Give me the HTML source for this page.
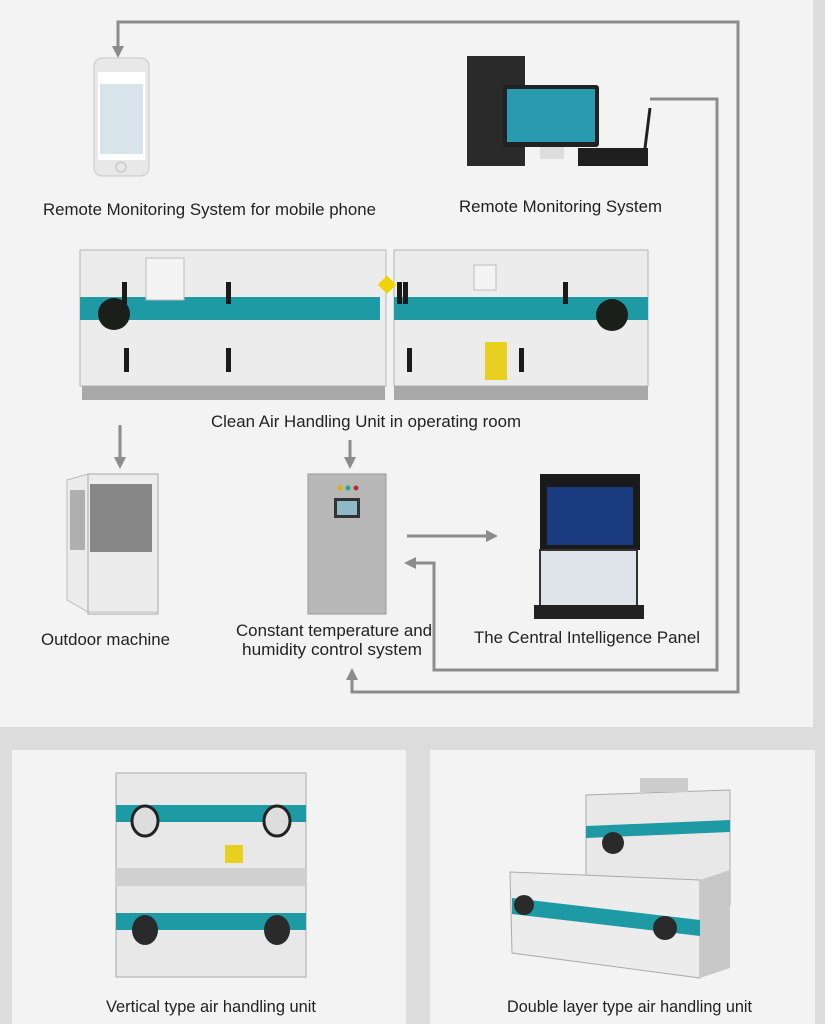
<!DOCTYPE html>
<html><head><meta charset="utf-8"><style>
html,body{margin:0;padding:0;width:825px;height:1024px;overflow:hidden;background:#f3f3f3}
svg{display:block}
text{font-family:"Liberation Sans",sans-serif;font-size:16.5px;fill:#222}
</style></head><body>
<svg width="825" height="1024" viewBox="0 0 825 1024" xmlns="http://www.w3.org/2000/svg">
<defs>
<marker id="ah" markerWidth="4" markerHeight="4" refX="2" refY="2" orient="auto" markerUnits="strokeWidth"><path d="M0,0 L4,2 L0,4 z" fill="#8c8c8c"/></marker>
</defs>
<rect width="825" height="1024" fill="#f3f3f3"/>
<rect x="813" y="0" width="12" height="727" fill="#dcdcdc"/>
<rect x="0" y="727" width="825" height="297" fill="#dcdcdc"/>
<rect x="12" y="750" width="394" height="274" fill="#f3f3f3"/>
<rect x="430" y="750" width="385" height="274" fill="#f3f3f3"/>

<g fill="none" stroke="#8c8c8c" stroke-width="3">
<path d="M118,48 V22 H738 V692 H352 V674" marker-end="url(#ah)"/>
<path d="M118,40 V52" marker-end="url(#ah)"/>
<path d="M650,99 H717 V670 H434 V563 H410" marker-end="url(#ah)"/>
<path d="M407,536 H492" marker-end="url(#ah)"/>
<path d="M120,425 V463" marker-end="url(#ah)"/>
<path d="M350,440 V463" marker-end="url(#ah)"/>
</g>

<rect x="94" y="58" width="55" height="118" rx="8" fill="#e8e8e8" stroke="#c8c8c8"/>
<rect x="98" y="72" width="47" height="88" fill="#fff"/>
<rect x="100" y="84" width="43" height="70" fill="#d8e4ec"/>
<circle cx="121" cy="167" r="5" fill="none" stroke="#bbb"/>

<rect x="467" y="56" width="58" height="110" fill="#2a2a2a"/>
<rect x="503" y="85" width="96" height="62" rx="3" fill="#222"/>
<rect x="507" y="89" width="88" height="53" fill="#2a9ab0"/>
<rect x="540" y="147" width="24" height="12" fill="#ddd"/>
<rect x="578" y="148" width="70" height="18" fill="#1f1f1f"/>
<line x1="645" y1="148" x2="650" y2="108" stroke="#222" stroke-width="3"/>

<text x="43" y="215" textLength="333" lengthAdjust="spacingAndGlyphs">Remote Monitoring System for mobile phone</text>
<text x="459" y="212" textLength="203" lengthAdjust="spacingAndGlyphs">Remote Monitoring System</text>

<rect x="80" y="250" width="306" height="136" fill="#ececec" stroke="#b5b5b5"/>
<rect x="394" y="250" width="254" height="136" fill="#ececec" stroke="#b5b5b5"/>
<rect x="80" y="297" width="300" height="23" fill="#1e9aa5"/>
<rect x="394" y="297" width="254" height="23" fill="#1e9aa5"/>
<rect x="82" y="386" width="303" height="14" fill="#a8a8a8"/>
<rect x="394" y="386" width="254" height="14" fill="#a8a8a8"/>
<circle cx="114" cy="314" r="16" fill="#1a1f1c"/>
<circle cx="612" cy="315" r="16" fill="#1a1f1c"/>
<rect x="146" y="258" width="38" height="42" fill="#f4f4f4" stroke="#bbb"/>
<rect x="474" y="265" width="22" height="25" fill="#f4f4f4" stroke="#bbb"/>
<rect x="485" y="342" width="22" height="38" fill="#e8d020"/>
<rect x="381" y="278" width="13" height="13" fill="#f0d400" transform="rotate(45 387 284)"/>
<g fill="#1a1a1a">
<rect x="122" y="282" width="5" height="22"/><rect x="226" y="282" width="5" height="22"/><rect x="397" y="282" width="5" height="22"/><rect x="403" y="282" width="5" height="22"/><rect x="563" y="282" width="5" height="22"/>
<rect x="124" y="348" width="5" height="24"/><rect x="226" y="348" width="5" height="24"/><rect x="407" y="348" width="5" height="24"/><rect x="519" y="348" width="5" height="24"/>
</g>
<text x="211" y="427" textLength="310" lengthAdjust="spacingAndGlyphs">Clean Air Handling Unit in operating room</text>

<polygon points="67,480 88,474 158,474 158,612 88,612 67,600" fill="#ececec" stroke="#bbb"/>
<rect x="90" y="484" width="62" height="68" fill="#444" opacity="0.6"/>
<rect x="70" y="490" width="15" height="60" fill="#555" opacity="0.4"/>
<rect x="88" y="474" width="70" height="140" fill="none" stroke="#aaa"/>
<text x="41" y="645" textLength="129" lengthAdjust="spacingAndGlyphs">Outdoor machine</text>

<rect x="308" y="474" width="78" height="140" fill="#b8b8b8" stroke="#999"/>
<rect x="334" y="498" width="26" height="20" fill="#333"/>
<rect x="337" y="501" width="20" height="14" fill="#8fb8c8"/>
<circle cx="340" cy="488" r="2.5" fill="#e0b000"/><circle cx="348" cy="488" r="2.5" fill="#2a8"/><circle cx="356" cy="488" r="2.5" fill="#a33"/>
<text x="236" y="636" textLength="196" lengthAdjust="spacingAndGlyphs">Constant temperature and</text>
<text x="242" y="655" textLength="180" lengthAdjust="spacingAndGlyphs">humidity control system</text>

<rect x="540" y="474" width="100" height="76" fill="#1a1a1a"/>
<rect x="547" y="487" width="86" height="58" fill="#1a3a80"/>
<rect x="540" y="550" width="97" height="58" fill="#dfe4ea" stroke="#333" stroke-width="2"/>
<rect x="534" y="605" width="110" height="14" fill="#222"/>
<text x="474" y="643" textLength="226" lengthAdjust="spacingAndGlyphs">The Central Intelligence Panel</text>

<rect x="116" y="773" width="190" height="204" fill="#e8e8e8" stroke="#aaa"/>
<rect x="116" y="805" width="190" height="17" fill="#1e9aa5"/>
<rect x="116" y="913" width="190" height="17" fill="#1e9aa5"/>
<rect x="116" y="868" width="190" height="18" fill="#d0d0d0"/>
<ellipse cx="145" cy="821" rx="13" ry="15" fill="#ddd" stroke="#222" stroke-width="3"/>
<ellipse cx="277" cy="821" rx="13" ry="15" fill="#ddd" stroke="#222" stroke-width="3"/>
<ellipse cx="145" cy="930" rx="13" ry="15" fill="#2a2a2a"/>
<ellipse cx="277" cy="930" rx="13" ry="15" fill="#2a2a2a"/>
<rect x="225" y="845" width="18" height="18" fill="#e8d020"/>
<text x="106" y="1012" textLength="210" lengthAdjust="spacingAndGlyphs">Vertical type air handling unit</text>

<polygon points="586,795 730,790 730,905 586,895" fill="#e8e8e8" stroke="#aaa"/>
<polygon points="510,872 700,880 700,978 512,953" fill="#ececec" stroke="#aaa"/>
<polygon points="700,880 730,870 730,968 700,978" fill="#c8c8c8"/>
<polygon points="586,826 730,820 730,832 586,838" fill="#1e9aa5"/>
<polygon points="512,898 700,920 700,936 512,914" fill="#1e9aa5"/>
<circle cx="613" cy="843" r="11" fill="#2a2a2a"/>
<circle cx="524" cy="905" r="10" fill="#2a2a2a"/>
<circle cx="665" cy="928" r="12" fill="#2a2a2a"/>
<rect x="640" y="778" width="48" height="14" fill="#ccc"/>
<text x="507" y="1012" textLength="245" lengthAdjust="spacingAndGlyphs">Double layer type air handling unit</text>
</svg>
</body></html>
